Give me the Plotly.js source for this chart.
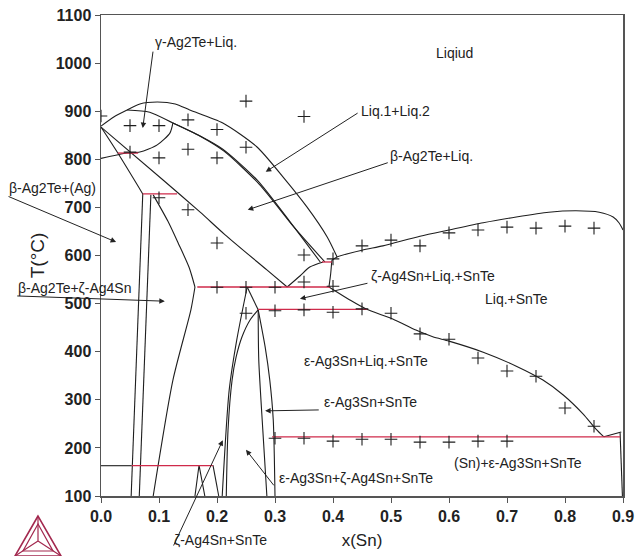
<!DOCTYPE html>
<html><head><meta charset="utf-8">
<script src="https://cdn.plot.ly/plotly-3.0.1.min.js"></script>
<style>html,body{margin:0;padding:0;background:#fff}#chart{width:636px;height:556px}</style>
</head><body><div id="chart"></div>
<script>
// ---------- experimental points (x(Sn), T in °C) ----------
const expX = [0.0,0.05,0.1,0.15,0.2,0.25,0.35,
  0.05,0.1,0.15,0.2,0.25,
  0.1,0.15,0.2,0.35,0.4,
  0.45,0.5,0.55,0.6,0.65,0.7,0.75,0.8,0.85,
  0.2,0.25,0.3,0.35,0.4,
  0.25,0.3,0.35,0.4,0.45,0.5,
  0.55,0.6,0.65,0.7,0.75,0.8,0.85,
  0.3,0.35,0.4,0.45,0.5,0.55,0.6,0.65,0.7];
const expT = [890,870,870,882,862,921,889,
  815,803,821,803,825,
  720,695,626,601,593,
  620,632,620,647,653,659,657,661,657,
  534,534,534,545,536,
  480,485,487,482,489,480,
  437,426,387,360,349,283,245,
  220,220,214,218,218,212,212,214,214];

// ---------- calculated phase boundaries ----------
const gammaLiqX = [0, 0.022, 0.045];
const gammaLiqT = [869, 888, 902.5];
const outerX = [0.045, 0.067, 0.097, 0.128, 0.153, 0.21, 0.269, 0.314, 0.355, 0.39, 0.407];
const outerT = [902.5, 915, 919, 915, 902.5, 875.5, 825.6, 763, 701, 638.5, 597];
const inner1X = [0.045, 0.084, 0.124, 0.171, 0.21, 0.269, 0.326, 0.378];
const inner1T = [902.5, 898, 875.5, 848.4, 821, 757, 670, 586.5];
const inner2X = [0.124, 0.171, 0.212, 0.273, 0.332, 0.386];
const inner2T = [875.5, 848, 817, 748, 660, 586.5];
const lensX = [0.124, 0.119, 0.097, 0.067, 0.045, 0.0];
const lensT = [875.5, 855, 830, 815, 813, 802];
const steepX = [0, 0.029, 0.072];
const steepT = [867, 813, 728];
const gentleX = [0, 0.107, 0.171, 0.214, 0.286, 0.321];
const gentleT = [867, 757, 690, 643, 570, 534.5];
const vert1X = [0.072, 0.052];
const vert1T = [728, 100];
const vert2X = [0.086, 0.066];
const vert2T = [726, 100];
const zetaArcX = [0.09, 0.115, 0.133, 0.152, 0.162];
const zetaArcT = [726, 672, 626, 575, 534.5];
const zetaLeftX = [0.162, 0.155, 0.124, 0.09];
const zetaLeftT = [534.5, 487, 341, 100];
const vShapeX = [0.321, 0.343, 0.36, 0.383];
const vShapeT = [534.5, 557.4, 576, 586.5];
const upperLiqX = [0.398, 0.407, 0.45, 0.486, 0.55, 0.6, 0.659, 0.716, 0.772, 0.819, 0.859, 0.883, 0.893, 0.9];
const upperLiqT = [590, 597, 611, 620, 640, 653, 668, 680, 690, 693, 690, 680, 668, 653];
const liqStepX = [0.398, 0.396, 0.393];
const liqStepT = [590, 562, 534.5];
const lowerLiqX = [0.393, 0.429, 0.457, 0.503, 0.543, 0.572, 0.6, 0.659, 0.716, 0.762, 0.797, 0.831, 0.853, 0.867];
const lowerLiqT = [534.5, 507.5, 488.8, 468, 445, 431, 422, 399, 370, 341, 310, 270.8, 239.7, 223];
const peakLeftX = [0.252, 0.234, 0.221, 0.209];
const peakLeftT = [534.5, 424, 320, 100];
const peakRightX = [0.252, 0.271];
const peakRightT = [534.5, 487];
const epsArcX = [0.271, 0.257, 0.243, 0.233, 0.226, 0.219, 0.216];
const epsArcT = [487, 466, 430.6, 389, 341, 237, 100];
const midVertX = [0.271, 0.272, 0.279, 0.286];
const midVertT = [487, 383, 237, 100];
const rightCurveX = [0.271, 0.283, 0.291, 0.297, 0.3];
const rightCurveT = [487, 410, 341, 258, 100];
const triX = [0.162, 0.169, 0.179];
const triT = [100, 164, 100];
const redEndX = [0.193, 0.203];
const redEndT = [164, 100];
const snCornerX = [0.867, 0.897];
const snCornerT = [223, 233];
const snVertX = [0.895, 0.899];
const snVertT = [231, 100];
const lowTieX = [0, 0.053];
const lowTieT = [163, 163];

// ---------- invariant (red) tie lines ----------
const tieT  = [813, 728, 534.5, 488, 223, 163, 586.5];
const tieX0 = [0.029, 0.072, 0.166, 0.271, 0.295, 0.053, 0.381];
const tieX1 = [0.064, 0.131, 0.395, 0.459, 0.895, 0.193, 0.398];

// ---------- tick labels ----------
const xTicks = [0,0.1,0.2,0.3,0.4,0.5,0.6,0.7,0.8,0.9];
const xTickText = ['0.0','0.1','0.2','0.3','0.4','0.5','0.6','0.7','0.8','0.9'];
const yTicks = [100,200,300,400,500,600,700,800,900,1000,1100];

const XMIN = 0, XMAX = 0.9, TMIN = 100, TMAX = 1100;
const BLK = '#1e1e1e', RED = '#cf2a4a';
const traces = [];
function curve(x, y, smooth) {
  traces.push({x: x, y: y, type: 'scatter', mode: 'lines', hoverinfo: 'skip', showlegend: false,
    line: {color: BLK, width: 1.1, shape: smooth ? 'spline' : 'linear', smoothing: 0.7}});
}
curve(gammaLiqX, gammaLiqT, true);
curve(outerX, outerT, true);
curve(inner1X, inner1T, true);
curve(inner2X, inner2T, true);
curve(lensX, lensT, true);
curve(steepX, steepT, true);
curve(gentleX, gentleT, true);
curve(vert1X, vert1T, false);
curve(vert2X, vert2T, false);
curve(zetaArcX, zetaArcT, true);
curve(zetaLeftX, zetaLeftT, true);
curve(vShapeX, vShapeT, true);
curve(upperLiqX, upperLiqT, true);
curve(liqStepX, liqStepT, true);
curve(lowerLiqX, lowerLiqT, true);
curve(peakLeftX, peakLeftT, true);
curve(peakRightX, peakRightT, false);
curve(epsArcX, epsArcT, true);
curve(midVertX, midVertT, true);
curve(rightCurveX, rightCurveT, true);
curve(triX, triT, false);
curve(redEndX, redEndT, false);
curve(snCornerX, snCornerT, false);
curve(snVertX, snVertT, false);
curve(lowTieX, lowTieT, false);
for (let i = 0; i < tieT.length; i++) {
  traces.push({x: [tieX0[i], tieX1[i]], y: [tieT[i], tieT[i]], type: 'scatter', mode: 'lines',
    hoverinfo: 'skip', showlegend: false, line: {color: RED, width: 1.3}});
}
traces.push({x: expX, y: expT, type: 'scatter', mode: 'markers', showlegend: false,
  marker: {symbol: 'cross-thin-open', size: 9, color: BLK, line: {color: BLK, width: 1.1}}});

// ---------- labels ----------
const labelText = ['Liqiud','γ-Ag2Te+Liq.','Liq.1+Liq.2','β-Ag2Te+Liq.','β-Ag2Te+(Ag)','β-Ag2Te+ζ-Ag4Sn',
  'ζ-Ag4Sn+Liq.+SnTe','Liq.+SnTe','ε-Ag3Sn+Liq.+SnTe','ε-Ag3Sn+SnTe','ε-Ag3Sn+ζ-Ag4Sn+SnTe',
  '(Sn)+ε-Ag3Sn+SnTe','ζ-Ag4Sn+SnTe'];
const labelPos = [
  [0.610, 1021, 'center'], [0.089, 1044, 'left'], [0.445, 901, 'left'], [0.495, 807, 'left'],
  [-0.162, 740, 'left'], [-0.147, 532, 'left'], [0.462, 557, 'left'], [0.717, 510, 'center'],
  [0.347, 381, 'left'], [0.381, 295, 'left'], [0.303, 137, 'left'], [0.719, 169, 'center'],
  [0.122, 8, 'left']];
function fx(x) { return (x - XMIN) / (XMAX - XMIN); }
function fy(t) { return (t - TMIN) / (TMAX - TMIN); }
const FONT = {family: 'Liberation Sans, Arial, sans-serif', size: 14, color: '#222'};
const annotations = labelText.map((t, i) => ({x: fx(labelPos[i][0]), y: fy(labelPos[i][1]),
  xref: 'paper', yref: 'paper', text: t, showarrow: false, xanchor: labelPos[i][2], yanchor: 'middle', font: FONT}));
// arrows: [tailX, tailT, headX, headT]
const arrows = [
  [0.090, 1027, 0.072, 865], [0.445, 898, 0.284, 774], [0.497, 794, 0.253, 695],
  [-0.162, 724, 0.026, 628], [-0.147, 516, 0.110, 505], [0.462, 543, 0.343, 510],
  [0.378, 279, 0.283, 277], [0.300, 119, 0.250, 196], [0.124, -6, 0.210, 216]];
arrows.forEach(a => annotations.push({x: a[2], y: a[3], ax: a[0], ay: a[1], xref: 'x', yref: 'y',
  axref: 'x', ayref: 'y', text: '', showarrow: true, arrowhead: 2, arrowsize: 1.1, arrowwidth: 1,
  arrowcolor: '#222', standoff: 0, startstandoff: 0}));

// ---------- logo (decoration) ----------
function px(p) { return (p - 101) / 522; }
function py(p) { return (496 - p) / 481; }
const LC = '#a3294f';
const shapes = [
  {type: 'path', xref: 'paper', yref: 'paper', line: {color: LC, width: 1.6},
   path: `M${px(38)},${py(516)} L${px(15)},${py(556)} L${px(61)},${py(556)} Z`},
  {type: 'path', xref: 'paper', yref: 'paper', line: {color: LC, width: 1.2},
   path: `M${px(38)},${py(524)} L${px(23)},${py(551)} L${px(53)},${py(551)} Z`},
  {type: 'path', xref: 'paper', yref: 'paper', line: {color: LC, width: 1.2},
   path: `M${px(38)},${py(516)} L${px(38)},${py(541)} M${px(15)},${py(556)} L${px(38)},${py(541)} M${px(61)},${py(556)} L${px(38)},${py(541)}`}
];

const tickFont = {family: 'Liberation Sans, Arial, sans-serif', size: 16, color: '#222', weight: 'bold'};
const layout = {
  width: 636, height: 556,
  margin: {l: 101, r: 13, t: 15, b: 60, pad: 0},
  paper_bgcolor: '#fff', plot_bgcolor: '#fff',
  showlegend: false,
  xaxis: {range: [XMIN, XMAX], tickvals: xTicks, ticktext: xTickText, showgrid: false, zeroline: false,
    showline: true, mirror: true, linecolor: '#555', linewidth: 1.5, ticks: 'outside', ticklen: 5,
    tickcolor: '#555', tickfont: tickFont,
    title: {text: 'x(Sn)', standoff: 10, font: {family: 'Liberation Sans, Arial, sans-serif', size: 17, color: '#222'}}},
  yaxis: {range: [TMIN, TMAX], tickvals: yTicks, showgrid: false, zeroline: false,
    showline: true, mirror: true, linecolor: '#555', linewidth: 1.5, ticks: 'outside', ticklen: 5,
    tickcolor: '#555', tickfont: tickFont,
    title: {text: 'T(°C)', standoff: 6, font: {family: 'Liberation Sans, Arial, sans-serif', size: 19, color: '#222'}}},
  annotations: annotations,
  shapes: shapes
};
Plotly.newPlot('chart', traces, layout, {displayModeBar: false, staticPlot: true});
</script></body></html>
